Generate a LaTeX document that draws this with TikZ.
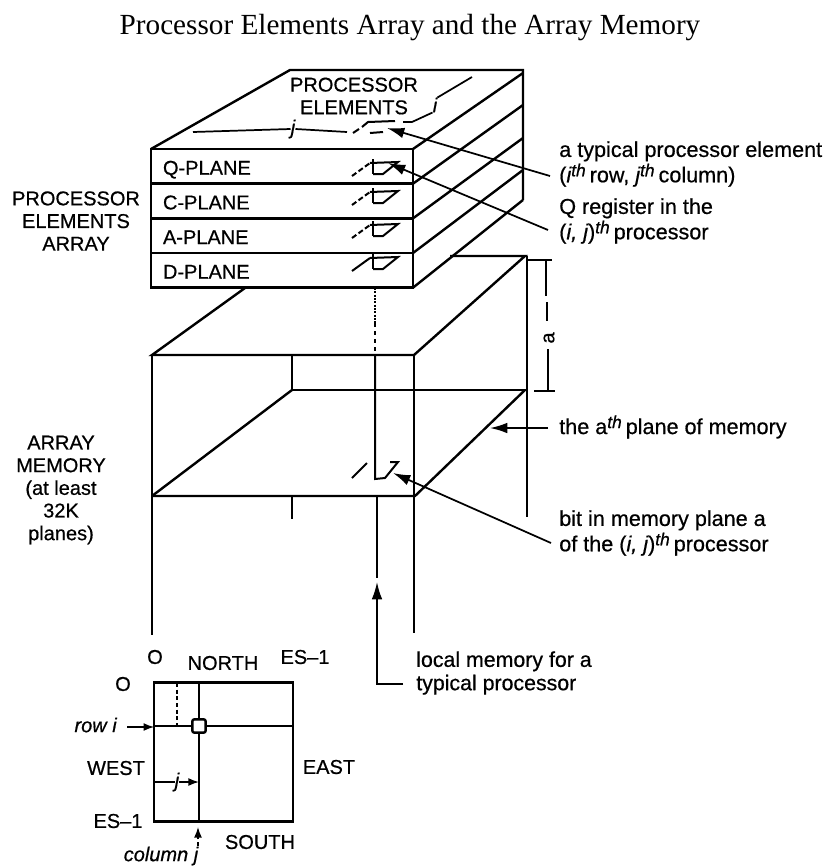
\documentclass[tikz,border=0pt]{standalone}
\usepackage{fontspec}
\setmainfont{Liberation Sans}[FakeBold=0.6]
\newfontfamily\titlefont{Liberation Serif}
\usetikzlibrary{positioning, arrows.meta}
\newcommand{\thsup}{\raisebox{4.5pt}{\itshape\fontsize{13}{13}\selectfont th}\kern3pt}
\begin{document}
\begin{tikzpicture}[
  x=0.75pt, y=-0.75pt,
  heavy/.style={line width=1.8pt},
  thin line/.style={line width=1.3pt},
  leader/.style={line width=1.3pt, -{Latex[length=13pt,width=8pt]}},
  smallarrow/.style={line width=1.1pt, -{Latex[length=8pt,width=6pt]}},
  planebox/.style={draw, line width=1.8pt, anchor=north west, minimum width=196.5pt,
                   minimum height=26pt, text width=178.5pt, inner xsep=9pt, inner ysep=0pt,
                   outer sep=0pt, align=left, text height=13pt, text depth=0.4pt,
                   font=\fontsize{15}{16}\selectfont},
  lbl/.style={font=\fontsize{15}{17}\selectfont, inner sep=0pt, align=center},
  note/.style={font=\fontsize{16.2}{19}\selectfont, inner sep=0pt, align=left, anchor=west},
  slanted/.style={font=\itshape\fontsize{15}{17}\selectfont, inner sep=0pt},
  pics/cellglyph/.style={code={
    \draw[line width=1.5pt] (0,0) -- (28,-1) -- (13,11) -- (3,11);
    \draw[line width=1.5pt] (3,-4) -- (3,11);
    \draw[line width=1.5pt, #1] (-18,13) -- (0,0);
  }}
]
  \useasboundingbox (0,0) rectangle (826,868);
  \node[font=\titlefont\fontsize{21.9}{24}\selectfont, inner sep=0pt] (title) at (410,28)
    {Processor Elements Array and the Array Memory};

  % processor block
  \node[planebox] (qplane) at (151,149) {Q-PLANE};
  \node[planebox, below=0pt of qplane] (cplane) {C-PLANE};
  \node[planebox, below=0pt of cplane] (aplane) {A-PLANE};
  \node[planebox, below=0pt of aplane] (dplane) {D-PLANE};
  \draw[heavy] (151,149) -- (290,70) -- (523,70) -- (523,200);
  \draw[heavy] (qplane.north east) -- (523,73);
  \draw[heavy] (qplane.south east) -- (523,105);
  \draw[heavy] (cplane.south east) -- (523,138);
  \draw[heavy] (aplane.south east) -- (523,170);
  \draw[heavy] (dplane.south east) -- (523,200);

  \node[lbl] (pelabel) at (354,96) {PROCESSOR\\ELEMENTS};
  \node[slanted] (jtop) at (293,129) {j};
  \node[slanted] (itop) at (435,105) {i};
  \draw[thin line] (193,132) -- (jtop.west);
  \draw[thin line] (jtop.east) -- (347,132);
  \draw[thin line] (403,122) -- (412,122) -- (itop.south west);
  \draw[thin line] (itop.north east) -- (472,77);
  \draw[line width=1.5pt] (353,133) -- (359,129) (362,127) -- (368,122) -- (395,121);
  \draw[line width=1.5pt] (370,133) -- (383,132);

  \pic at (370,163) {cellglyph={dash pattern=on 4pt off 2pt}};
  \pic at (370,192) {cellglyph={dash pattern=on 4pt off 2pt}};
  \pic at (370,225) {cellglyph={dash pattern=on 4pt off 2pt}};
  \pic at (370,258) {cellglyph=solid};

  % memory block
  \draw[heavy] (245,288) -- (152,355) -- (414,355) -- (525,256) -- (450,256);
  \draw[heavy] (152,355) -- (152,635);
  \draw[heavy] (414,355) -- (414,633);
  \draw[heavy] (527,256) -- (527,517);
  \draw[heavy] (292,355) -- (292,390) -- (527,390);
  \draw[heavy] (152,496) -- (292,390);
  \draw[heavy] (152,496) -- (415,496) -- (525,390);
  \draw[heavy] (292,496) -- (292,519);
  \draw[line width=1.5pt, densely dotted] (375,288) -- (375,323);
  \draw[line width=1.5pt, dashed] (375,323) -- (375,355);
  \draw[line width=1.5pt] (375,355) -- (375,479) -- (385,478) -- (398,462) -- (390,462);
  \draw[line width=1.5pt] (352,478) -- (367,463);

  % a dimension
  \node[lbl, rotate=90] (adim) at (549,338) {a};
  \draw[line width=1.2pt] (528,260) -- (552,260);
  \draw[line width=1.2pt] (546,260) -- (546,296);
  \draw[line width=1.2pt] (547,302) -- (547,321);
  \draw[line width=1.2pt] (548,349) -- (548,391);
  \draw[line width=1.2pt] (534,391) -- (555,391);

  % side labels
  \node[lbl] (pearray) at (76,221) {PROCESSOR\\ELEMENTS\\ARRAY};
  \node[lbl] (memlabel) at (61,490) {ARRAY\\MEMORY\\(at least\\32K\\planes)};
  \node[note] (pcnote) at (559,164) {a typical processor element\\({\itshape i}\thsup row, {\itshape j}\thsup column)};
  \node[note] (qnote) at (559,221) {Q register in the\\({\itshape i, j})\thsup processor};
  \node[note] (planenote) at (559,427) {the a\thsup plane of memory};
  \node[note] (bitnote) at (559,533) {bit in memory plane a\\of the ({\itshape i, j})\thsup processor};
  \node[note, font=\fontsize{16}{17.5}\selectfont] (localnote) at (416,673) {local memory for a\\typical processor};

  % leaders
  \coordinate (pctip) at (387,128);
  \coordinate (pcend) at (550,176);
  \coordinate (qtip) at (388,163);
  \coordinate (qend) at (548,230);
  \coordinate (bittip) at (393,473);
  \coordinate (bitend) at (551,543);
  \coordinate (planetip) at (490,428);
  \coordinate (planeend) at (548,428);
  \coordinate (localtip) at (377,582);
  \coordinate (localend) at (403,684);
  \draw[leader] (pcend) -- (pctip);
  \draw[leader] (qend) -- (qtip);
  \draw[leader] (bitend) -- (bittip);
  \draw[leader] (planeend) -- (planetip);
  \draw[leader] (localend) -| (localtip);
  \draw[heavy] (377,496) -- (377,578);

  % small array
  \node[draw, heavy, minimum size=104pt, inner sep=0pt, outer sep=0pt] (grid) at (223.5,752) {};
  \node[draw, heavy, fill=white, rounded corners=1.5pt, minimum size=10pt, inner sep=0pt] (peel) at (199,726) {};
  \draw[heavy] (grid.north -| peel) -- (peel);
  \draw[heavy] (peel) -- (grid.south -| peel);
  \draw[heavy] (grid.west |- peel) -- (peel);
  \draw[heavy] (peel) -- (grid.east |- peel);
  \draw[line width=1.5pt, densely dashed] (177,683) -- (177,726);
  \node[lbl] (orgx) at (155,657) {O};
  \node[lbl] (orgy) at (123,684) {O};
  \node[lbl] (north) at (223,663) {NORTH};
  \node[lbl] (esright) at (305,657) {ES--1};
  \node[lbl] (west) at (116,768) {WEST};
  \node[lbl] (east) at (329,767) {EAST};
  \node[lbl] (esleft) at (118,821) {ES--1};
  \node[lbl] (south) at (260,842) {SOUTH};
  \node[slanted, anchor=east] (rowi) at (117,725) {row i};
  \node[slanted] (colj) at (161,856) {column j};
  \node[slanted] (jmark) at (177,782) {j};
  \draw[smallarrow] (127,727) -- (grid.west |- 0,727);
  \draw[smallarrow] (jmark.east) -- (peel.center |- jmark.east);
  \draw[line width=1.1pt] (grid.west |- jmark.west) -- (jmark.west);
  \draw[smallarrow, densely dashed] (198,846) -- (198,827);
\end{tikzpicture}
\end{document}
